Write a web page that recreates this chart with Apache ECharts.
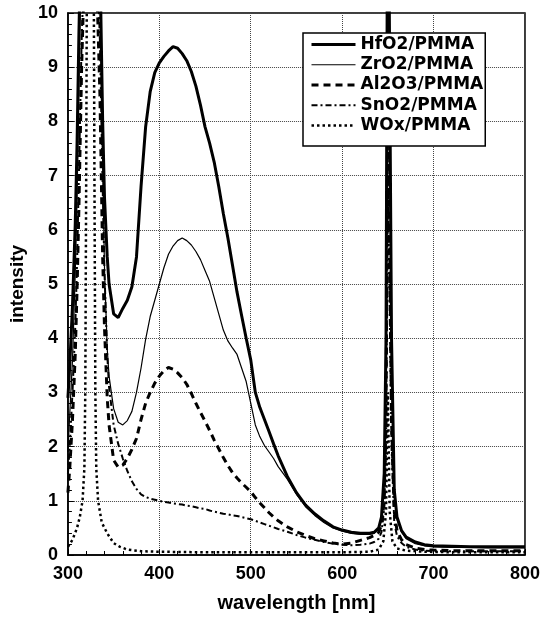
<!DOCTYPE html>
<html><head><meta charset="utf-8">
<script src="https://cdn.jsdelivr.net/npm/echarts@6/dist/echarts.min.js"></script>
<style>html,body{margin:0;padding:0;background:#fff}#c{width:543px;height:618px}</style>
</head><body><div id="c"></div>
<script>
const seriesNames = ['HfO2/PMMA','ZrO2/PMMA','Al2O3/PMMA','SnO2/PMMA','WOx/PMMA'];
const xTicks = [300,400,500,600,700,800];
const yTicks = [0,1,2,3,4,5,6,7,8,9,10];

const wavelength = [300,302,305,308,310,312,315,320,325,330,335,338,340,343,345,350,355,360,365,370,375,380,385,390,395,400,405,410,415,420,425,430,435,440,445,450,455,460,465,470,475,480,485,490,495,500,505,510,515,520,525,530,540,550,560,570,580,590,600,610,620,630,635,640,643,646,648,650,652,654,657,660,665,670,680,690,700,720,740,760,780,800];

const hfo2 = [2.9,3.5,4.6,6.1,7.6,9.6,12,14,14.5,14,11,8,6.6,5.5,5.0,4.45,4.38,4.55,4.7,4.95,5.5,6.8,7.9,8.55,8.9,9.08,9.2,9.3,9.38,9.35,9.25,9.12,8.92,8.65,8.3,7.9,7.6,7.25,6.8,6.3,5.85,5.35,4.85,4.42,4.0,3.6,3.0,2.72,2.5,2.28,2.05,1.83,1.45,1.15,0.92,0.76,0.63,0.52,0.46,0.42,0.4,0.4,0.42,0.5,0.7,1.5,4,14,14,4,1.2,0.7,0.45,0.33,0.24,0.19,0.17,0.16,0.15,0.15,0.15,0.15];

const zro2 = [1.9,2.6,3.6,5.2,6.6,8.6,11.5,13,13.5,13,10.5,7.2,5.3,3.8,3.3,2.7,2.45,2.4,2.48,2.65,3.0,3.45,3.98,4.4,4.7,5.0,5.3,5.55,5.7,5.8,5.85,5.8,5.72,5.6,5.45,5.25,5.05,4.75,4.45,4.15,3.95,3.82,3.7,3.45,3.2,2.8,2.4,2.18,2.02,1.9,1.78,1.63,1.4,1.12,0.89,0.73,0.6,0.5,0.44,0.4,0.38,0.38,0.4,0.47,0.65,1.4,3.5,12,12,3.5,1.1,0.65,0.42,0.3,0.21,0.17,0.15,0.14,0.14,0.13,0.13,0.13];

const al2o3 = [1.15,1.6,2.5,3.7,4.9,6.4,9,12,12.5,11.5,8.5,5.5,4.2,2.9,2.4,1.75,1.62,1.66,1.78,1.95,2.15,2.5,2.8,3.0,3.17,3.3,3.4,3.46,3.43,3.36,3.27,3.15,2.98,2.8,2.63,2.47,2.3,2.12,1.96,1.8,1.65,1.52,1.42,1.33,1.25,1.17,1.06,0.96,0.87,0.78,0.7,0.63,0.52,0.43,0.36,0.3,0.26,0.22,0.2,0.22,0.27,0.32,0.36,0.42,0.55,1.0,2.5,9,9,2.5,0.8,0.45,0.28,0.19,0.13,0.1,0.09,0.08,0.08,0.08,0.08,0.08];

const sno2 = [1.5,2.0,3.0,4.2,5.4,7,9.5,12,12.5,12,9.5,6.8,5.2,3.7,3.1,2.4,2.05,1.78,1.55,1.36,1.22,1.12,1.07,1.04,1.02,1.0,0.98,0.97,0.95,0.94,0.93,0.91,0.9,0.88,0.86,0.85,0.82,0.8,0.78,0.76,0.75,0.73,0.72,0.7,0.68,0.66,0.63,0.6,0.57,0.54,0.51,0.48,0.43,0.37,0.32,0.28,0.24,0.21,0.19,0.18,0.19,0.21,0.24,0.3,0.42,0.85,2,7,7,2,0.6,0.35,0.22,0.15,0.1,0.08,0.07,0.07,0.07,0.07,0.07,0.07];

const woxWavelength = [300,305,310,313,316,318,319,320,321,323,326,328,329,330,331,333,337,343,350,357,365,380,400,450,500,550,600,630,640,645,648,650,652,655,660,670,690,720,760,800];
const wox = [0.15,0.28,0.5,0.7,1.0,1.6,3,7,12,14,14,12,7,3,1.6,1.0,0.6,0.4,0.22,0.15,0.1,0.07,0.06,0.05,0.05,0.05,0.05,0.06,0.1,0.25,0.8,3,0.8,0.25,0.12,0.08,0.06,0.05,0.05,0.05];

const pair = (xs, ys) => xs.map((x, i) => [x, ys[i]]);
const FONT = 'Liberation Sans, Arial, sans-serif';

const styles = [
  {width: 3, type: 'solid'},
  {width: 1.2, type: 'solid'},
  {width: 3, type: [7, 5]},
  {width: 2, type: [6, 3, 2, 3]},
  {width: 2.5, type: [2.5, 3]}
];

const chart = echarts.init(document.getElementById('c'), null, {renderer: 'canvas'});
const mk = (i, data) => ({
  name: seriesNames[i], type: 'line', data, showSymbol: false, symbol: 'none', clip: true,
  lineStyle: {color: '#000', width: styles[i].width, type: styles[i].type},
  itemStyle: {color: '#000'}, animation: false
});

chart.setOption({
  animation: false,
  backgroundColor: '#fff',
  grid: {left: 60, right: 14, top: 13, bottom: 63, show: true, borderColor: '#000', borderWidth: 1.5, backgroundColor: 'transparent'},
  legend: {
    data: seriesNames.map((n, i) => ({name: n, lineStyle: {color: '#000', width: styles[i].width, type: styles[i].type}})),
    orient: 'vertical', left: 303, top: 33,
    itemWidth: 44, itemHeight: 14, itemGap: 3.25, padding: [3, 2, 12, 7],
    borderColor: '#000', borderWidth: 1.5, backgroundColor: '#fff', borderRadius: 0,
    itemStyle: {opacity: 0, borderWidth: 0},
    textStyle: {fontFamily: 'DejaVu Sans', fontWeight: 'bold', fontSize: 17, lineHeight: 17, color: '#000'}
  },
  xAxis: {
    type: 'value', min: xTicks[0], max: xTicks[xTicks.length - 1], interval: 100,
    name: 'wavelength [nm]', nameLocation: 'middle', nameGap: 38,
    nameTextStyle: {fontFamily: FONT, fontWeight: 'bold', fontSize: 20, color: '#000'},
    axisLine: {lineStyle: {color: '#000', width: 1.5}},
    axisTick: {inside: true, length: 6, lineStyle: {color: '#000'}},
    minorTick: {show: true, splitNumber: 5, length: 4, lineStyle: {color: '#000'}},
    axisLabel: {fontFamily: FONT, fontWeight: 'bold', fontSize: 18, color: '#000', margin: 10},
    splitLine: {show: true, lineStyle: {color: '#444', type: 'dotted', width: 1}}
  },
  yAxis: {
    type: 'value', min: yTicks[0], max: yTicks[yTicks.length - 1], interval: 1,
    name: 'intensity', nameLocation: 'middle', nameGap: 38,
    nameTextStyle: {fontFamily: FONT, fontWeight: 'bold', fontSize: 19, color: '#000'},
    axisLine: {lineStyle: {color: '#000', width: 1.5}},
    axisTick: {inside: true, length: 6, lineStyle: {color: '#000'}},
    minorTick: {show: true, splitNumber: 5, length: 4, lineStyle: {color: '#000'}},
    axisLabel: {fontFamily: FONT, fontWeight: 'bold', fontSize: 18, color: '#000', margin: 10},
    splitLine: {show: true, lineStyle: {color: '#444', type: 'dotted', width: 1}}
  },
  series: [
    mk(0, pair(wavelength, hfo2)),
    mk(1, pair(wavelength, zro2)),
    mk(2, pair(wavelength, al2o3)),
    mk(3, pair(wavelength, sno2)),
    mk(4, pair(woxWavelength, wox))
  ]
});
</script>
</body></html>
